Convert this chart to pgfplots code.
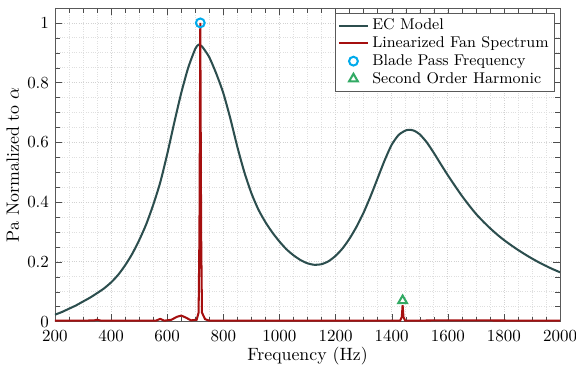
\documentclass[border=0pt]{standalone}
\usepackage{pgfplots}
\pgfplotsset{compat=1.18}
\definecolor{ecc}{RGB}{44,78,78}
\definecolor{redfan}{RGB}{165,15,15}
\definecolor{bpf}{RGB}{0,170,235}
\definecolor{soh}{RGB}{50,170,100}
\begin{document}
\begin{tikzpicture}
\begin{axis}[
  scale only axis,
  width=298pt, height=185pt,
  xmin=200, xmax=2000, ymin=0, ymax=1.05,
  xtick={200,400,...,2000},
  ytick={0,0.2,0.4,0.6,0.8,1},
  minor x tick num=3, minor y tick num=3,
  grid=both,
  major grid style={gray!35, densely dotted},
  minor grid style={gray!25, densely dotted},
  axis line style={gray!70!black},
  tick style={gray!60!black},
  tick align=inside,
  xlabel={Frequency (Hz)},
  ylabel={Pa Normalized to $\alpha$},
  xticklabel style={/pgf/number format/1000 sep={}, yshift=-2pt},
  label style={font=\fontsize{10.5}{12}\selectfont},
  ticklabel style={font=\normalsize},
  xlabel style={yshift=3.5pt},
  ylabel style={yshift=-2pt},
  legend style={at={(rel axis cs:0.99,0.985)}, anchor=north east, font=\fontsize{9.2}{10.5}\selectfont, draw=gray!70!black, row sep=-1.5pt, inner sep=1.5pt},
  legend cell align=left,
]
\addlegendimage{ecc, line width=1.2pt}
\addlegendentry{EC Model}
\addlegendimage{draw=redfan, line width=1.2pt}
\addlegendentry{Linearized Fan Spectrum}
\addlegendimage{only marks, mark=o, mark size=2.6pt, bpf, line width=1.2pt}
\addlegendentry{Blade Pass Frequency}
\addlegendimage{only marks, mark=triangle, mark size=3pt, soh, line width=1.2pt}
\addlegendentry{Second Order Harmonic}
\addplot[forget plot, ecc, line width=1.2pt, smooth, tension=0.4] coordinates {
(200,0.023)(225,0.032)(250,0.043)(275,0.054)(300,0.067)(325,0.080)(350,0.095)(375,0.111)(400,0.131)(425,0.156)(450,0.188)(475,0.226)(500,0.272)(525,0.325)(550,0.390)(575,0.465)(600,0.560)(625,0.665)(650,0.765)(675,0.850)(700,0.913)(712,0.927)(725,0.920)(750,0.885)(775,0.830)(800,0.765)(825,0.680)(850,0.585)(875,0.500)(900,0.430)(925,0.375)(950,0.333)(975,0.298)(1000,0.268)(1025,0.242)(1050,0.222)(1075,0.206)(1100,0.195)(1125,0.190)(1150,0.192)(1175,0.202)(1200,0.220)(1225,0.245)(1250,0.278)(1275,0.318)(1300,0.365)(1325,0.420)(1350,0.480)(1375,0.540)(1400,0.592)(1425,0.625)(1450,0.640)(1465,0.642)(1480,0.639)(1500,0.627)(1525,0.600)(1550,0.565)(1575,0.527)(1600,0.490)(1625,0.455)(1650,0.421)(1675,0.390)(1700,0.361)(1725,0.336)(1750,0.313)(1775,0.292)(1800,0.273)(1825,0.256)(1850,0.240)(1875,0.225)(1900,0.211)(1925,0.198)(1950,0.186)(1975,0.175)(2000,0.165)
};
\addplot[forget plot, redfan, line width=1.2pt] coordinates {
(200,0.003)(300,0.003)(340,0.004)(350,0.006)(365,0.003)(560,0.003)(575,0.009)(590,0.003)(615,0.006)(635,0.016)(650,0.02)(665,0.014)(685,0.004)(705,0.006)(712,0.03)(715,0.3)(718,1.0)(721,0.3)(724,0.03)(735,0.008)(750,0.003)(1430,0.003)(1436,0.015)(1439,0.055)(1442,0.015)(1448,0.003)(1600,0.004)(2000,0.003)
};
\addplot[forget plot, only marks, mark=o, mark size=2.6pt, bpf, line width=1.2pt] coordinates {(718,1.0)};
\addplot[forget plot, only marks, mark=triangle, mark size=3pt, soh, line width=1.2pt] coordinates {(1439,0.07)};
\end{axis}
\pgfresetboundingbox
\path (current axis.south west) ++(-32.4pt,-25.9pt) rectangle (current axis.north east);
\path (current axis.north east) ++(9.4pt,4.7pt);
\end{tikzpicture}
\end{document}
